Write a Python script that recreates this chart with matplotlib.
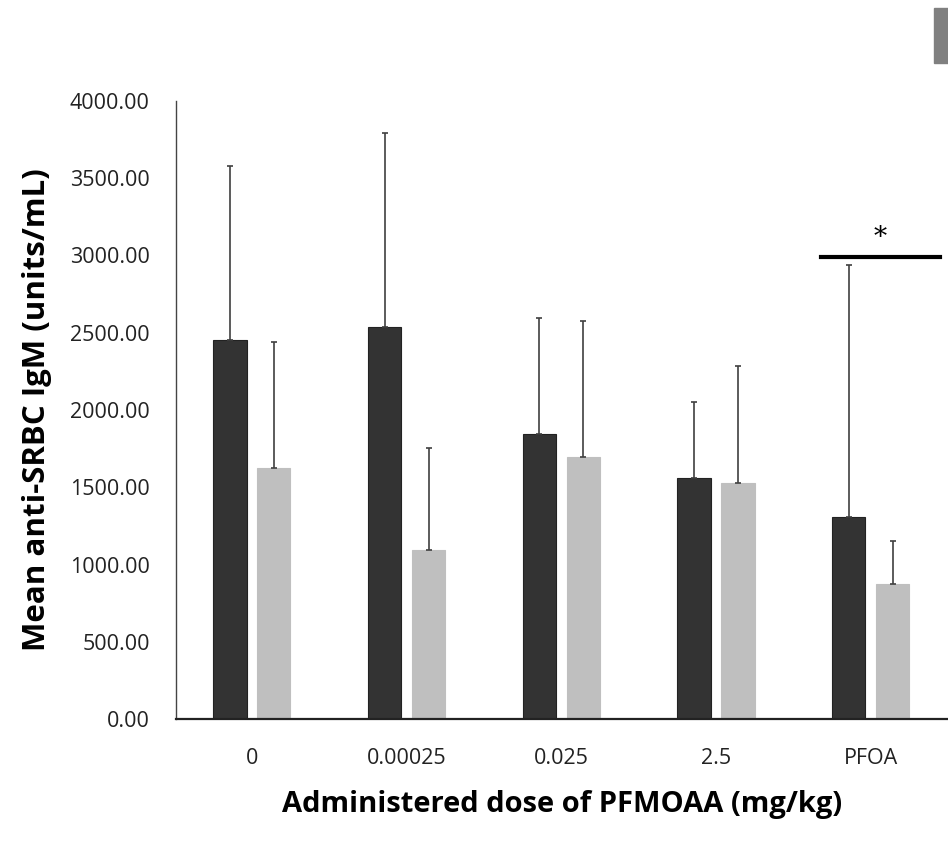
import numpy as np
import matplotlib
matplotlib.use('Agg')
import matplotlib.pyplot as plt
from matplotlib.patches import Rectangle

doses = ['0', '0.00025', '0.025', '2.5', 'PFOA']
dark_means = [2452, 2536, 1843, 1559, 1307]
dark_errs = [1125, 1254, 751, 491, 1630]
light_means = [1623, 1093, 1695, 1527, 873]
light_errs = [816, 660, 880, 756, 278]
yticks = [0, 500, 1000, 1500, 2000, 2500, 3000, 3500, 4000]
sig_y = 2990  # height of the significance bar over PFOA

plt.rcParams['font.family'] = ['Open Sans', 'DejaVu Sans']

fig = plt.figure(figsize=(9.48, 8.41), dpi=100)
ax = fig.add_axes([0.1857, 0.145, 0.8143, 0.735])

x = np.arange(len(doses))
w = 0.215
off = 0.142
ax.bar(x - off, dark_means, w, color='#333333', edgecolor='#222222', linewidth=0.8, zorder=2)
ax.bar(x + off, light_means, w, color='#bfbfbf', edgecolor='#bfbfbf', linewidth=0.8, zorder=2)

# upward error bars only
ax.errorbar(x - off, dark_means, yerr=[np.zeros(len(x)), dark_errs], fmt='none',
            ecolor='#404040', elinewidth=1.2, capsize=2.5, capthick=1.2, zorder=3)
ax.errorbar(x + off, light_means, yerr=[np.zeros(len(x)), light_errs], fmt='none',
            ecolor='#404040', elinewidth=1.2, capsize=2.5, capthick=1.2, zorder=3)

ax.set_xlim(-0.49, 4.5)
ax.set_ylim(0, 4000)
ax.set_yticks(yticks)
ax.set_yticklabels(['{0:.2f}'.format(v) for v in yticks], fontsize=15.5)
ax.set_xticks(x)
ax.set_xticklabels(doses, fontsize=15.5)
ax.tick_params(axis='both', length=0, colors='#222222')
ax.tick_params(axis='x', pad=21)
ax.tick_params(axis='y', pad=19)

for s in ['top', 'right']:
    ax.spines[s].set_visible(False)
ax.spines['left'].set_color('#444444')
ax.spines['left'].set_linewidth(1.0)
ax.spines['bottom'].set_color('#222222')
ax.spines['bottom'].set_linewidth(1.6)

ax.set_ylabel('Mean anti-SRBC IgM (units/mL)', fontsize=22.5, fontweight='bold', labelpad=13)
ax.set_xlabel('Administered dose of PFMOAA (mg/kg)', fontsize=21, fontweight='bold', labelpad=15)

# significance marker
ax.plot([3.68, 4.45], [sig_y, sig_y], color='black', linewidth=3, clip_on=False, zorder=4)
ax.text(4.06, sig_y + 45, '*', ha='center', va='bottom', fontsize=19, family='DejaVu Serif')

# cropped legend swatch at top right
fig.patches.append(Rectangle((934 / 948, 1 - 63 / 841), 14 / 948, 55 / 841,
                             transform=fig.transFigure, color='#808080', zorder=5))

plt.savefig('out.png', dpi=100)
